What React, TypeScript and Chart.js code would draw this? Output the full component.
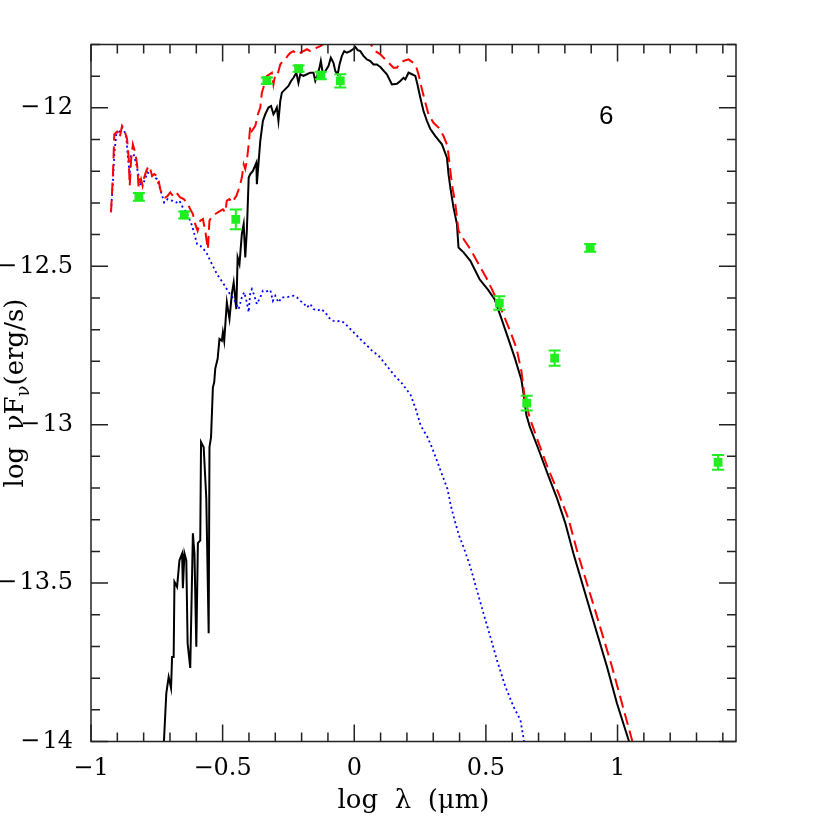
import { useEffect, useRef } from 'react';
import { Chart, registerables } from 'chart.js';

Chart.register(...registerables);

// ---- axes ----
const xRange = [-1, 1.45];
const yRange = [-14, -11.8];
const xTickValues = [-1, -0.5, 0, 0.5, 1];
const yTickValues = [-14, -13.5, -13, -12.5, -12];

// ---- black solid model ----
const blackLogLambda = [
  -0.726, -0.714, -0.705, -0.696, -0.692, -0.686, -0.683, -0.673, -0.664, -0.654,
  -0.651, -0.645, -0.638, -0.633, -0.623, -0.613, -0.607, -0.600, -0.594, -0.585,
  -0.582, -0.572, -0.562, -0.553, -0.550, -0.544, -0.537, -0.532, -0.528, -0.519,
  -0.512, -0.503, -0.499, -0.494, -0.484, -0.474, -0.465, -0.458, -0.448, -0.443,
  -0.436, -0.427, -0.420, -0.414, -0.408, -0.401, -0.395, -0.385, -0.372, -0.370,
  -0.364, -0.357, -0.347, -0.338, -0.326, -0.316, -0.307, -0.300, -0.294, -0.288,
  -0.281, -0.275, -0.262, -0.250, -0.240, -0.231, -0.220, -0.212, -0.205, -0.193,
  -0.180, -0.167, -0.155, -0.148, -0.139, -0.132, -0.127, -0.119, -0.110, -0.098,
  -0.089, -0.079, -0.072, -0.063, -0.056, -0.047, -0.038, -0.028, -0.015, -0.005,
  0.004, 0.013, 0.023, 0.035, 0.048, 0.061, 0.073, 0.086, 0.099, 0.124,
  0.143, 0.162, 0.175, 0.187, 0.194, 0.206, 0.219, 0.232, 0.240, 0.251,
  0.263, 0.276, 0.289, 0.308, 0.333, 0.352, 0.358, 0.365, 0.377, 0.390,
  0.396, 0.415, 0.441, 0.476, 0.507, 0.533, 0.558, 0.584, 0.610, 0.635,
  0.642, 0.654, 0.667, 0.699, 0.737, 0.769, 0.801, 0.833, 0.896, 0.960,
  0.998, 1.042, 1.056,
];
const blackLogFlux = [
  -14.05, -13.848, -13.796, -13.831, -13.733, -13.733, -13.496, -13.512, -13.428, -13.407,
  -13.516, -13.406, -13.428, -13.690, -13.768, -13.343, -13.407, -13.701, -13.374, -13.365,
  -13.055, -13.071, -13.234, -13.658, -13.071, -13.039, -12.882, -12.866, -12.823, -12.792,
  -12.729, -12.735, -12.708, -12.735, -12.614, -12.666, -12.587, -12.551, -12.635, -12.472,
  -12.493, -12.398, -12.367, -12.472, -12.388, -12.220, -12.209, -12.199, -12.173, -12.241,
  -12.178, -12.104, -12.041, -12.020, -11.999, -11.994, -12.020, -12.010, -11.999, -12.041,
  -11.978, -11.952, -11.941, -11.931, -11.915, -11.905, -11.889, -11.921, -11.894, -11.899,
  -11.894, -11.889, -11.889, -11.915, -11.894, -11.873, -11.852, -11.894, -11.884, -11.868,
  -11.842, -11.858, -11.884, -11.894, -11.863, -11.836, -11.821, -11.826, -11.821, -11.815,
  -11.808, -11.818, -11.821, -11.836, -11.847, -11.852, -11.863, -11.863, -11.871, -11.894,
  -11.926, -11.924, -11.915, -11.905, -11.910, -11.889, -11.894, -11.899, -11.926, -11.968,
  -12.010, -12.041, -12.067, -12.089, -12.115, -12.157, -12.209, -12.252, -12.315, -12.367,
  -12.441, -12.456, -12.483, -12.541, -12.573, -12.604, -12.663, -12.726, -12.790, -12.859,
  -12.896, -12.970, -13.007, -13.076, -13.161, -13.230, -13.309, -13.408, -13.586, -13.764,
  -13.880, -13.995, -14.04,
];

// ---- red dashed total ----
const redLogLambda = [
  -0.924, -0.9165, -0.9115, -0.901, -0.891, -0.882, -0.874, -0.863, -0.857, -0.853,
  -0.848, -0.841, -0.832, -0.825, -0.819, -0.810, -0.804, -0.798, -0.790, -0.781,
  -0.775, -0.768, -0.760, -0.749, -0.743, -0.737, -0.727, -0.718, -0.709, -0.699,
  -0.689, -0.680, -0.671, -0.661, -0.648, -0.635, -0.623, -0.613, -0.604, -0.595,
  -0.585, -0.575, -0.566, -0.559, -0.556, -0.550, -0.540, -0.528, -0.509, -0.499,
  -0.490, -0.484, -0.474, -0.465, -0.456, -0.448, -0.439, -0.433, -0.427, -0.420,
  -0.414, -0.408, -0.401, -0.395, -0.389, -0.376, -0.364, -0.357, -0.351, -0.345,
  -0.338, -0.332, -0.322, -0.313, -0.307, -0.300, -0.291, -0.281, -0.271, -0.262,
  -0.253, -0.243, -0.231, -0.218, -0.205, -0.193, -0.180, -0.167, -0.155, -0.142,
  -0.129, -0.10, -0.07, -0.04, 0.00, 0.03, 0.055, 0.067, 0.080, 0.099,
  0.118, 0.137, 0.149, 0.162, 0.175, 0.187, 0.206, 0.225, 0.236, 0.244,
  0.257, 0.270, 0.282, 0.301, 0.320, 0.339, 0.354, 0.362, 0.371, 0.384,
  0.396, 0.415, 0.441, 0.472, 0.504, 0.526, 0.558, 0.590, 0.616, 0.635,
  0.648, 0.667, 0.699, 0.737, 0.776, 0.814, 0.849, 0.915, 0.979, 1.017,
  1.055, 1.067,
];
const redLogFlux = [
  -12.330, -12.209, -12.083, -12.075, -12.094, -12.057, -12.067, -12.099, -12.157, -12.246,
  -12.167, -12.115, -12.141, -12.178, -12.252, -12.225, -12.246, -12.220, -12.199, -12.183,
  -12.193, -12.215, -12.209, -12.215, -12.230, -12.257, -12.278, -12.283, -12.278, -12.267,
  -12.278, -12.267, -12.272, -12.283, -12.288, -12.299, -12.320, -12.335, -12.367, -12.388,
  -12.356, -12.351, -12.388, -12.430, -12.446, -12.356, -12.341, -12.335, -12.325, -12.320,
  -12.330, -12.293, -12.288, -12.299, -12.288, -12.278, -12.257, -12.241, -12.220, -12.178,
  -12.193, -12.167, -12.115, -12.057, -12.073, -12.057, -12.015, -11.999, -11.952, -11.936,
  -11.915, -11.899, -11.894, -11.889, -11.926, -11.894, -11.894, -11.863, -11.852, -11.847,
  -11.836, -11.826, -11.821, -11.831, -11.826, -11.821, -11.815, -11.821, -11.815, -11.810,
  -11.805, -11.79, -11.785, -11.77, -11.76, -11.775, -11.79, -11.805, -11.821, -11.831,
  -11.847, -11.863, -11.873, -11.873, -11.858, -11.852, -11.847, -11.858, -11.873, -11.894,
  -11.941, -11.984, -12.020, -12.047, -12.062, -12.089, -12.120, -12.178, -12.241, -12.304,
  -12.388, -12.414, -12.446, -12.493, -12.540, -12.578, -12.636, -12.700, -12.758, -12.832,
  -12.917, -12.980, -13.055, -13.140, -13.217, -13.298, -13.406, -13.586, -13.764, -13.880,
  -13.995, -14.04,
];

// ---- blue dotted component ----
const blueLogLambda = [
  -0.924, -0.9165, -0.9115, -0.904, -0.895, -0.882, -0.874, -0.866, -0.861, -0.853,
  -0.848, -0.838, -0.828, -0.819, -0.813, -0.800, -0.785, -0.768, -0.749, -0.737,
  -0.722, -0.709, -0.692, -0.676, -0.664, -0.651, -0.638, -0.626, -0.616, -0.604,
  -0.597, -0.585, -0.572, -0.559, -0.547, -0.522, -0.496, -0.477, -0.458, -0.439,
  -0.427, -0.418, -0.408, -0.401, -0.395, -0.389, -0.382, -0.370, -0.357, -0.347,
  -0.332, -0.319, -0.309, -0.300, -0.288, -0.275, -0.262, -0.246, -0.231, -0.218,
  -0.205, -0.190, -0.180, -0.167, -0.155, -0.139, -0.127, -0.110, -0.098, -0.081,
  -0.066, -0.053, -0.041, -0.028, -0.009, 0.010, 0.029, 0.048, 0.067, 0.092,
  0.105, 0.131, 0.156, 0.182, 0.195, 0.214, 0.233, 0.252, 0.278, 0.297,
  0.316, 0.335, 0.354, 0.367, 0.380, 0.397, 0.415, 0.441, 0.466, 0.491,
  0.517, 0.542, 0.574, 0.605, 0.631, 0.643, 0.646,
];
const blueLogFlux = [
  -12.325, -12.230, -12.146, -12.083, -12.078, -12.062, -12.073, -12.089, -12.146, -12.209,
  -12.152, -12.146, -12.178, -12.215, -12.241, -12.236, -12.204, -12.215, -12.225, -12.257,
  -12.299, -12.288, -12.293, -12.299, -12.293, -12.315, -12.330, -12.351, -12.372, -12.409,
  -12.430, -12.435, -12.446, -12.461, -12.483, -12.524, -12.556, -12.582, -12.603, -12.635,
  -12.598, -12.582, -12.614, -12.645, -12.582, -12.572, -12.587, -12.619, -12.598, -12.577,
  -12.579, -12.575, -12.609, -12.593, -12.614, -12.598, -12.598, -12.596, -12.593, -12.598,
  -12.609, -12.619, -12.630, -12.619, -12.635, -12.640, -12.635, -12.645, -12.661, -12.672,
  -12.674, -12.672, -12.677, -12.687, -12.703, -12.719, -12.735, -12.750, -12.766, -12.782,
  -12.795, -12.822, -12.848, -12.870, -12.885, -12.906, -12.949, -13.002, -13.039, -13.076,
  -13.118, -13.161, -13.203, -13.256, -13.298, -13.348, -13.386, -13.449, -13.523, -13.596,
  -13.670, -13.743, -13.827, -13.890, -13.932, -13.990, -14.01,
];

// ---- green photometry ----
const obsLogLambda = [-0.818, -0.646, -0.450, -0.332, -0.2115, -0.127, -0.053, 0.551, 0.655, 0.761, 0.896, 1.382];
const obsLogFlux = [-12.281, -12.338, -12.352, -11.914, -11.876, -11.898, -11.915, -12.616, -12.932, -12.790, -12.442, -13.119];
const obsError = [0.012, 0.011, 0.031, 0.010, 0.010, 0.012, 0.021, 0.021, 0.023, 0.024, 0.012, 0.023];

const panelLabel = { text: '6', x: 0.957, y: -12.029 };

const zip = (xs: number[], ys: number[]) => xs.map((x, i) => ({ x, y: ys[i] }));
const fmtX = (v: number) => (v < 0 ? '\u2212' + String(Math.abs(v)) : String(v));
const fmtY = (v: number) => (v < 0 ? '\u2212\u200a' + String(Math.abs(v)) : String(v));

const GREEN = '#1fee1f';
const SERIF = '"DejaVu Serif", serif';

const decorPlugin = {
  id: 'decor',
  afterDatasetsDraw(chart: any) {
    const { ctx, scales } = chart;
    const x = scales.x;
    const y = scales.y;
    ctx.save();
    ctx.strokeStyle = GREEN;
    ctx.lineWidth = 2;
    obsLogLambda.forEach((lx, i) => {
      const px = x.getPixelForValue(lx);
      const top = y.getPixelForValue(obsLogFlux[i] + obsError[i]);
      const bot = y.getPixelForValue(obsLogFlux[i] - obsError[i]);
      ctx.beginPath();
      ctx.moveTo(px, top); ctx.lineTo(px, bot);
      ctx.moveTo(px - 6, top); ctx.lineTo(px + 6, top);
      ctx.moveTo(px - 6, bot); ctx.lineTo(px + 6, bot);
      ctx.stroke();
    });
    ctx.restore();
  },
  afterDraw(chart: any) {
    const { ctx, chartArea: a, scales } = chart;
    const x = scales.x;
    const y = scales.y;
    ctx.save();
    ctx.strokeStyle = '#222';
    ctx.lineWidth = 1.5;
    ctx.strokeRect(a.left, a.top, a.right - a.left, a.bottom - a.top);
    ctx.beginPath();
    for (let i = Math.ceil(x.min * 10 - 1e-6); i <= Math.floor(x.max * 10 + 1e-6); i++) {
      const px = x.getPixelForValue(i / 10);
      const len = i % 5 === 0 ? 17 : 9;
      ctx.moveTo(px, a.bottom); ctx.lineTo(px, a.bottom - len);
      ctx.moveTo(px, a.top); ctx.lineTo(px, a.top + len);
    }
    for (let i = Math.ceil(y.min * 10 - 1e-6); i <= Math.floor(y.max * 10 + 1e-6); i++) {
      const py = y.getPixelForValue(i / 10);
      const len = i % 5 === 0 ? 17 : 9;
      ctx.moveTo(a.left, py); ctx.lineTo(a.left + len, py);
      ctx.moveTo(a.right, py); ctx.lineTo(a.right - len, py);
    }
    ctx.stroke();

    // panel label
    ctx.fillStyle = '#000';
    ctx.font = '26px "Liberation Sans", sans-serif';
    ctx.textAlign = 'center';
    ctx.textBaseline = 'middle';
    ctx.fillText(panelLabel.text, x.getPixelForValue(panelLabel.x), y.getPixelForValue(panelLabel.y));

    // x title
    ctx.font = '26px ' + SERIF;
    ctx.fillText('log  \u03bb  (\u03bcm)', (a.left + a.right) / 2, 801);

    // y title (rotated, with subscript)
    const main = '26px ' + SERIF;
    const sub = '18px ' + SERIF;
    const parts = [
      { t: 'log  \u03bdF', f: main, dy: 0 },
      { t: '\u03bd', f: sub, dy: 8 },
      { t: '(erg/s)', f: main, dy: 0 },
    ];
    let total = 0;
    const widths = parts.map((p) => {
      ctx.font = p.f;
      const w = ctx.measureText(p.t).width;
      total += w;
      return w;
    });
    ctx.translate(16, (a.top + a.bottom) / 2);
    ctx.rotate(-Math.PI / 2);
    ctx.textAlign = 'left';
    let cx = -total / 2;
    parts.forEach((p, i) => {
      ctx.font = p.f;
      ctx.fillText(p.t, cx, p.dy);
      cx += widths[i];
    });
    ctx.restore();
  },
};

export default function App() {
  const ref = useRef<HTMLCanvasElement | null>(null);
  useEffect(() => {
    if (!ref.current) return;
    const chart = new Chart(ref.current, {
      type: 'scatter',
      data: {
        datasets: [
          {
            label: 'observed',
            data: zip(obsLogLambda, obsLogFlux),
            showLine: false,
            pointStyle: 'rect',
            pointRadius: 6.2,
            pointHoverRadius: 6.2,
            backgroundColor: GREEN,
            borderWidth: 0,
            order: 0,
          },
          {
            label: 'total',
            data: zip(redLogLambda, redLogFlux),
            showLine: true,
            borderColor: '#ff0000',
            borderWidth: 2,
            borderDash: [12, 6],
            pointRadius: 0,
            tension: 0,
            clip: 0,
            order: 1,
          },
          {
            label: 'component',
            data: zip(blueLogLambda, blueLogFlux),
            showLine: true,
            borderColor: '#0000ff',
            borderWidth: 1.8,
            borderDash: [2, 3],
            pointRadius: 0,
            tension: 0,
            clip: 0,
            order: 2,
          },
          {
            label: 'photosphere',
            data: zip(blackLogLambda, blackLogFlux),
            showLine: true,
            borderColor: '#000000',
            borderWidth: 2,
            pointRadius: 0,
            tension: 0,
            clip: 0,
            order: 3,
          },
        ],
      },
      options: {
        animation: false,
        responsive: false,
        devicePixelRatio: 1,
        layout: { padding: { left: 0, right: 94, top: 44.5, bottom: 0 } },
        plugins: { legend: { display: false }, tooltip: { enabled: false } },
        scales: {
          x: {
            type: 'linear',
            min: xRange[0],
            max: xRange[1],
            grid: { display: false, drawTicks: false },
            border: { display: false },
            afterBuildTicks: (s: any) => { s.ticks = xTickValues.map((v) => ({ value: v })); },
            afterFit: (s: any) => { s.height = 88.5; },
            ticks: {
              color: '#000',
              padding: 13,
              maxRotation: 0,
              autoSkip: false,
              font: { family: SERIF, size: 24 },
              callback: (v: any) => fmtX(Number(v)),
            },
          },
          y: {
            type: 'linear',
            min: yRange[0],
            max: yRange[1],
            grid: { display: false, drawTicks: false },
            border: { display: false },
            afterBuildTicks: (s: any) => { s.ticks = yTickValues.map((v) => ({ value: v })); },
            afterFit: (s: any) => { s.width = 91; },
            ticks: {
              color: '#000',
              padding: 18,
              autoSkip: false,
              font: { family: SERIF, size: 24 },
              callback: (v: any) => fmtY(Number(v)),
            },
          },
        },
      },
      plugins: [decorPlugin],
    });
    return () => chart.destroy();
  }, []);
  return (
    <div style={{ position: 'absolute', left: 0, top: 0, width: 830, height: 830 }}>
      <canvas ref={ref} width={830} height={830} style={{ display: 'block' }} />
    </div>
  );
}
